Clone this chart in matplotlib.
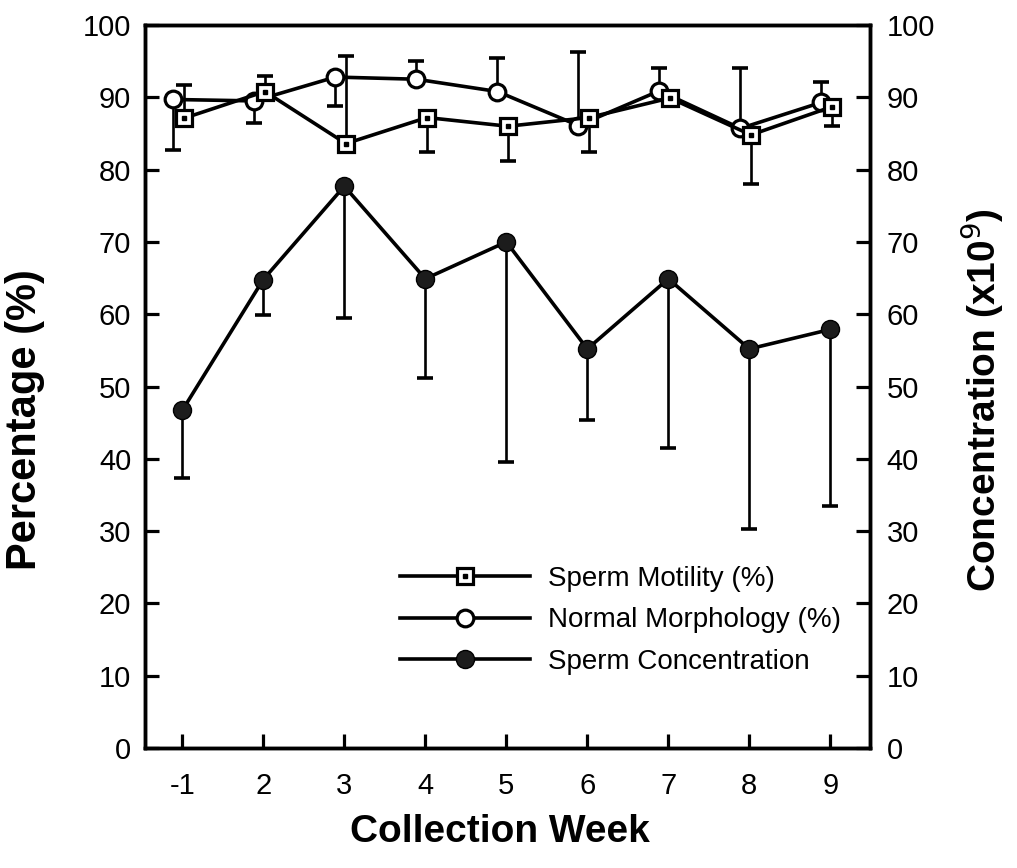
import numpy as np
import matplotlib.pyplot as plt

plt.rcParams['font.family'] = ['Liberation Sans', 'DejaVu Sans']

# collection weeks on the x axis
weeks = ['-1', '2', '3', '4', '5', '6', '7', '8', '9']

# sperm motility (%), with lower / upper error
motility = [87.1, 90.8, 83.6, 87.2, 86.0, 87.2, 89.9, 84.8, 88.7]
motility_lo = [0, 0, 0, 4.8, 4.8, 4.8, 0, 6.8, 2.6]
motility_hi = [4.6, 2.2, 12.1, 0, 0, 0, 0, 0, 0]

# normal morphology (%), with lower / upper error
morphology = [89.7, 89.5, 92.8, 92.5, 90.8, 86.1, 90.9, 85.7, 89.3]
morphology_lo = [7.0, 3.1, 4.0, 0, 0, 0, 0, 0, 0]
morphology_hi = [0, 0, 0, 2.5, 4.7, 10.2, 3.2, 8.3, 2.8]

# sperm concentration (x10^9), lower error only
concentration = [46.7, 64.8, 77.7, 64.9, 70.0, 55.2, 64.9, 55.2, 57.9]
concentration_lo = [9.4, 4.9, 18.2, 13.7, 30.4, 9.8, 23.4, 24.9, 24.4]

x = np.arange(len(weeks))
x_morph = x - 0.11
x_mot = x + 0.02

fig = plt.figure(figsize=(10.17, 8.68), dpi=100)
ax = fig.add_axes([0.1426, 0.1382, 0.7129, 0.833])
ax2 = ax.twinx()

lw = 2.6


def one_sided(axis, xs, ys, lo, hi):
    # half error bars: a stem from the point and a cap at its far end only
    ys = np.array(ys)
    for err, sign in ((np.array(lo), -1), (np.array(hi), 1)):
        m = err > 0
        if not m.any():
            continue
        ends = ys[m] + sign * err[m]
        axis.vlines(xs[m], ys[m], ends, color='black', lw=1.9, zorder=2)
        axis.plot(xs[m], ends, ls='none', marker='_', ms=12, mew=2.6,
                  color='black', zorder=2)


one_sided(ax, x_morph, morphology, morphology_lo, morphology_hi)
one_sided(ax, x_mot, motility, motility_lo, motility_hi)
one_sided(ax2, x, concentration, concentration_lo, np.zeros(len(x)))

morph_line, = ax.plot(x_morph, morphology, color='black', lw=lw, marker='o', ms=12,
                      mfc='white', mec='black', mew=2.3, zorder=3)
mot_line, = ax.plot(x_mot, motility, color='black', lw=lw, marker='s', ms=11,
                    mfc='white', mec='black', mew=2.3, zorder=4)
mot_dot, = ax.plot(x_mot, motility, ls='none', marker='s', ms=2.5, color='black', zorder=5)
conc_line, = ax2.plot(x, concentration, color='black', lw=lw, marker='o', ms=13,
                      mfc='#1c1c1c', mec='black', zorder=3)

ax.set_xlim(-0.46, 8.49)
ax.set_ylim(0, 100)
ax2.set_ylim(0, 100)
ax.set_xticks(x)
ax.set_xticklabels(weeks)
ax.set_yticks(np.arange(0, 101, 10))
ax2.set_yticks(np.arange(0, 101, 10))

for a in (ax, ax2):
    for s in a.spines.values():
        s.set_linewidth(2.5)
ax.tick_params(axis='both', direction='in', length=10, width=2.3, labelsize=21)
ax.tick_params(axis='x', pad=17)
ax.tick_params(axis='y', pad=10)
ax2.tick_params(axis='y', direction='in', length=10, width=2.3, labelsize=21, pad=12)

ax.set_xlabel('Collection Week', fontsize=28, fontweight='bold')
ax.xaxis.set_label_coords(0.49, -0.091)
ax.set_ylabel('Percentage (%)', fontsize=30, fontweight='bold')
ax.yaxis.set_label_coords(-0.138, 0.454)
ax2.set_ylabel('Concentration (x10$^9$)', fontsize=28, fontweight='bold')
ax2.yaxis.set_label_coords(1.122, 0.481)

leg = ax.legend([(mot_line, mot_dot), morph_line, conc_line],
                ['Sperm Motility (%)', 'Normal Morphology (%)', 'Sperm Concentration'],
                loc='upper left', bbox_to_anchor=(0.352, 0.252), frameon=False,
                fontsize=20, handlelength=4.68, handletextpad=0.65, borderpad=0,
                borderaxespad=0, labelspacing=0.56)

fig.savefig('out.png', dpi=100)
